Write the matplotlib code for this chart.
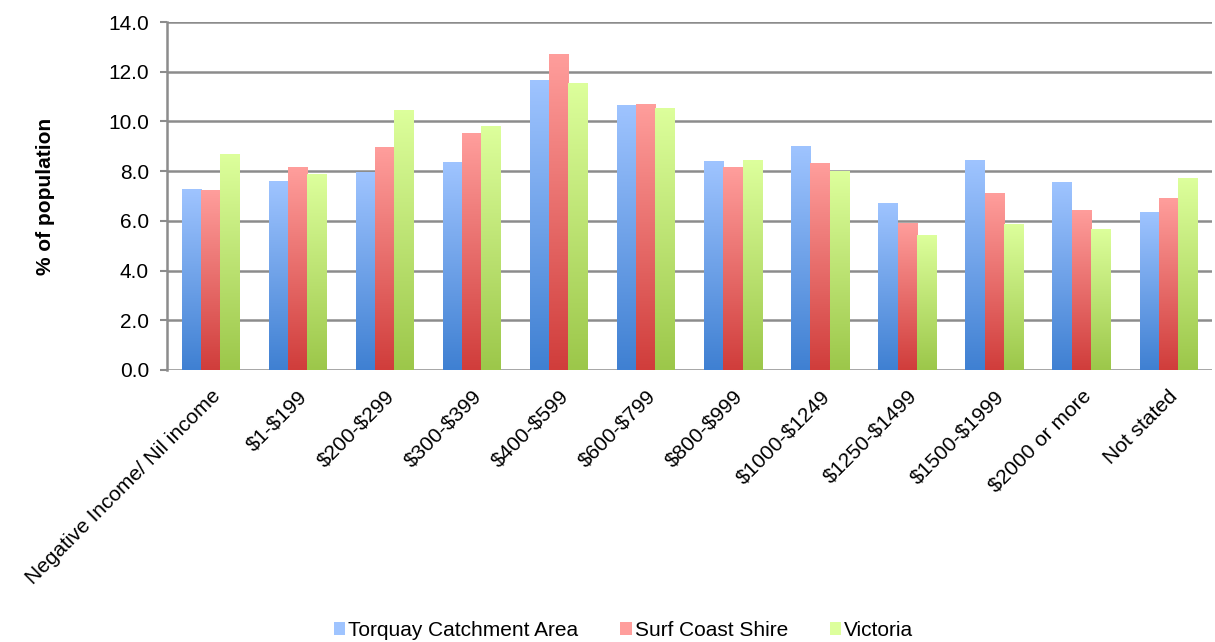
import matplotlib.pyplot as plt
import numpy as np
from matplotlib.colors import LinearSegmentedColormap

plt.rcParams['font.family'] = ['Liberation Sans', 'DejaVu Sans']

categories = ['Negative Income/ Nil income', r'\$1-\$199', r'\$200-\$299', r'\$300-\$399',
              r'\$400-\$599', r'\$600-\$799', r'\$800-\$999', r'\$1000-\$1249', r'\$1250-\$1499',
              r'\$1500-\$1999', r'\$2000 or more', 'Not stated']
torquay = [7.28, 7.6, 7.96, 8.36, 11.68, 10.68, 8.4, 9.0, 6.72, 8.44, 7.56, 6.36]
surf_coast = [7.24, 8.16, 8.96, 9.52, 12.72, 10.72, 8.16, 8.32, 5.92, 7.12, 6.44, 6.92]
victoria = [8.68, 7.88, 10.48, 9.8, 11.56, 10.56, 8.44, 8.0, 5.44, 5.88, 5.68, 7.72]
series = ['Torquay Catchment Area', 'Surf Coast Shire', 'Victoria']

# (bottom colour, top colour)
grads = [('#3f80d2', '#9fc4ff'), ('#d03d3b', '#ff9e9c'), ('#9cc74a', '#ddff9c')]

fig = plt.figure(figsize=(12.15, 6.42), dpi=100)
ax = fig.add_axes([0.1374, 0.4237, 0.860, 0.5420])

x = np.arange(len(categories))
w = 0.22
grad = np.linspace(0, 1, 256).reshape(-1, 1)

for k, (vals, (c0, c1)) in enumerate(zip([torquay, surf_coast, victoria], grads)):
    cmap = LinearSegmentedColormap.from_list('g%d' % k, [c0, c1])
    bars = ax.bar(x + (k - 1) * w, vals, w, color=c1, label=series[k], zorder=3)
    for b in bars:
        x0, y0 = b.get_x(), b.get_y()
        im = ax.imshow(grad, cmap=cmap, aspect='auto', origin='lower',
                       extent=[x0, x0 + b.get_width(), y0, y0 + b.get_height()],
                       zorder=4)
        im.set_clip_path(b)

ax.set_xlim(-0.5, len(categories) - 0.5)
ax.set_ylim(0, 14)
ax.set_yticks(np.arange(0, 14.1, 2))
ax.set_yticklabels(['%.1f' % v for v in np.arange(0, 14.1, 2)], fontsize=15)
ax.set_xticks(x)
ax.set_xticklabels(categories, rotation=45, ha='right', rotation_mode='anchor', fontsize=15)
ax.tick_params(axis='x', length=0, pad=12)
ax.tick_params(axis='y', length=5, color='#8c8c8c', width=1.5, pad=8)
ax.grid(axis='y', color='#8c8c8c', linewidth=1.8, zorder=0)
for s in ['top', 'right', 'bottom']:
    ax.spines[s].set_visible(False)
ax.spines['left'].set_color('#8c8c8c')
ax.spines['left'].set_linewidth(1.8)
ax.set_ylabel('% of population', fontsize=15, fontweight='bold', labelpad=38)

ax.legend(loc='lower center', bbox_to_anchor=(0.437, -0.83), ncol=3, frameon=False,
          fontsize=15, handlelength=0.55, handleheight=0.55, handletextpad=0.15,
          columnspacing=2.0)

fig.savefig('out.png', dpi=100)
